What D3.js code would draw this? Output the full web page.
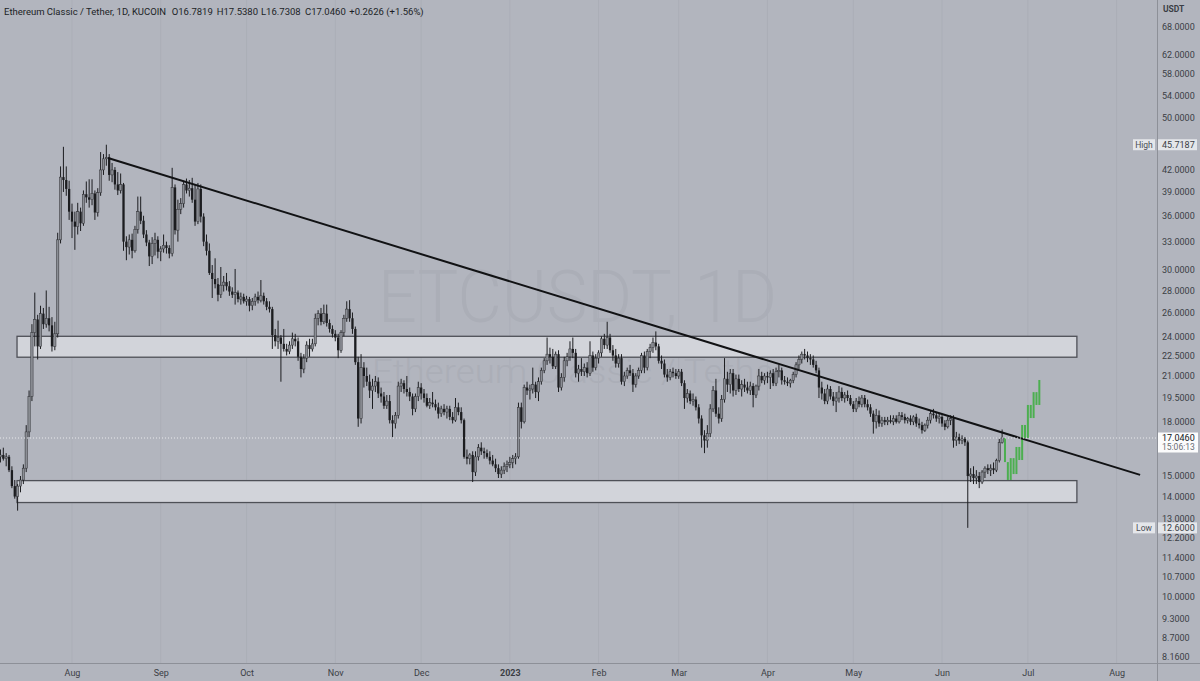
<!DOCTYPE html>
<html><head><meta charset="utf-8">
<script src="https://cdnjs.cloudflare.com/ajax/libs/d3/7.8.5/d3.min.js"></script>
<style>html,body{margin:0;padding:0;background:#b2b5be;overflow:hidden}svg{display:block}</style>
</head><body>
<svg id="chart" width="1200" height="681"></svg>
<script>
// ---------- DATA ----------
const firstDay = "2022-07-07"; // one candle per day from this date
const opens = [
16.0,16.1,15.9,16.0,15.3,14.5,14.0,14.5,14.8,15.4,
17.4,19.6,24.3,25.4,23.2,25.9,25.0,25.5,24.9,23.2,
24.2,33.2,41.0,40.6,39.4,36.5,35.3,34.7,36.5,35.1,
38.7,38.3,38.0,38.8,36.4,38.9,42.0,43.6,43.8,41.3,
42.0,40.0,39.2,40.0,33.0,32.4,33.2,32.0,34.4,36.5,
35.4,33.8,32.9,31.4,32.8,33.2,31.9,32.2,32.6,32.3,
31.7,39.6,34.3,36.8,37.5,40.0,39.2,39.5,38.0,35.3,
39.4,35.9,33.0,32.0,29.7,29.1,28.6,27.6,28.5,28.8,
28.4,27.9,27.6,27.8,27.2,27.4,27.0,27.2,26.6,27.0,
27.4,27.1,27.5,27.0,26.5,26.3,24.1,23.6,23.9,23.4,
23.0,22.8,23.3,23.8,23.6,22.4,21.5,22.3,23.3,23.0,
23.4,25.5,25.9,25.2,25.9,25.1,24.6,24.2,23.9,22.9,
24.3,25.5,26.3,25.5,24.6,22.0,18.2,21.6,21.0,20.6,
20.0,20.3,20.6,19.8,19.6,19.0,19.3,18.1,17.9,18.4,
20.3,20.5,20.1,19.9,19.6,18.8,19.6,20.2,19.8,19.5,
19.0,19.2,19.1,18.9,18.5,18.8,18.6,18.8,18.3,18.1,
18.9,18.6,18.1,16.0,15.9,16.1,15.2,16.0,16.5,16.3,
16.2,16.0,15.8,15.6,15.4,15.1,15.3,15.5,15.6,15.7,
15.9,16.0,18.9,18.0,20.2,20.0,20.1,20.4,19.9,20.6,
21.4,22.1,22.6,22.4,21.7,22.6,20.2,20.9,22.1,22.4,
23.0,22.7,21.2,21.5,21.3,21.6,21.2,22.5,21.6,22.3,
22.7,23.8,23.3,23.9,22.9,22.5,21.9,22.3,20.6,21.0,
21.4,21.2,20.4,21.0,21.4,22.5,21.6,22.8,23.1,23.5,
23.2,22.1,21.9,21.1,20.9,21.3,21.2,21.0,21.3,20.5,
19.5,19.8,19.3,19.4,18.9,18.2,17.2,16.9,17.3,18.8,
20.0,18.5,18.2,19.4,20.8,20.4,21.2,20.0,20.8,20.1,
20.4,20.2,20.0,20.3,19.7,20.3,21.0,20.7,21.0,20.9,
21.2,20.5,21.3,21.4,20.7,20.6,20.5,20.7,21.1,21.8,
22.2,22.6,22.5,22.3,22.2,21.8,21.4,20.2,19.8,19.3,
20.1,19.6,19.3,19.5,19.9,19.5,19.7,19.5,19.1,18.8,
19.3,19.1,19.5,19.1,18.9,18.5,18.0,18.4,17.9,18.1,
18.0,18.1,18.0,18.2,18.0,18.4,18.3,18.1,18.2,18.0,
18.3,17.9,17.8,17.5,17.8,18.1,18.5,18.4,18.2,18.3,
17.9,17.7,18.1,18.2,16.9,17.1,16.9,17.0,16.8,15.0,
15.1,14.9,15.0,14.7,15.2,15.4,15.3,15.4,15.3,15.8,
16.7819];
const highs = [
16.4,16.5,16.2,16.1,15.5,14.8,14.6,15.0,15.6,17.8,
20.0,25.0,27.8,25.8,26.6,26.4,28.0,26.5,25.6,25.2,
34.0,42.5,45.4,42.5,40.5,37.5,36.5,37.6,37.0,39.2,
40.4,40.7,40.7,39.2,39.5,44.6,44.3,45.7187,44.3,43.0,
42.4,41.7,41.5,40.2,33.6,33.8,33.9,34.8,38.4,38.4,
36.0,34.3,33.2,33.5,34.0,33.6,32.5,33.8,33.0,32.6,
42.3,40.0,38.0,38.2,40.5,40.8,40.6,40.9,40.0,40.2,
40.0,36.3,33.8,32.8,30.5,31.2,29.2,30.3,29.4,29.7,
28.9,28.3,30.1,28.0,27.8,27.7,27.5,27.4,27.3,27.7,
27.9,29.0,27.8,27.3,27.0,26.5,24.6,25.3,24.1,24.6,
23.4,23.6,24.3,24.2,23.9,22.7,22.6,23.6,23.8,23.8,
25.9,26.2,26.4,26.7,26.7,25.4,24.9,24.5,24.2,24.5,
25.8,27.0,27.1,26.0,24.8,22.4,22.6,22.0,21.6,21.1,
20.8,21.0,20.9,20.2,19.9,19.7,19.7,18.4,18.6,20.6,
20.8,20.7,21.0,20.2,19.8,19.8,20.6,20.5,20.1,19.8,
19.5,19.9,19.4,19.2,19.0,19.1,19.0,19.0,18.6,19.5,
19.2,18.9,18.2,16.4,16.2,16.3,16.3,16.7,16.8,16.5,
16.4,16.3,16.1,15.9,15.6,15.5,15.7,15.8,16.0,16.1,
16.2,19.2,19.2,20.4,20.6,20.4,21.6,20.6,20.9,21.6,
22.3,23.9,23.1,23.0,22.8,22.9,21.2,22.4,22.7,23.6,
23.9,23.0,21.8,22.3,21.9,22.0,23.6,22.8,22.6,22.9,
24.0,24.2,25.2,24.2,23.3,23.0,22.6,22.6,21.3,21.6,
21.8,21.5,21.2,21.6,22.7,22.8,23.0,23.4,23.9,24.4,
23.4,22.5,22.2,21.5,21.5,21.6,21.5,21.5,21.5,20.7,
20.1,20.0,19.8,19.6,19.1,18.4,17.5,17.8,19.1,20.3,
20.8,18.9,19.7,22.3,21.3,21.5,21.5,21.1,21.1,20.7,
20.8,20.6,20.6,20.5,20.4,21.5,21.3,21.2,21.3,21.4,
21.5,21.6,21.8,21.6,21.0,20.9,20.8,21.3,22.0,22.5,
22.8,23.0,22.8,22.6,22.5,22.1,21.6,20.6,20.1,20.4,
20.3,19.9,19.9,20.3,20.2,19.9,20.0,19.7,19.3,19.5,
19.6,19.7,19.7,19.4,19.1,18.7,18.8,18.7,18.3,18.3,
18.3,18.4,18.4,18.4,18.6,18.6,18.5,18.3,18.4,18.4,
18.5,18.2,18.0,17.9,18.3,18.7,18.8,18.6,18.5,18.4,
18.1,18.3,18.4,18.4,17.4,17.3,17.2,17.1,16.9,15.4,
15.5,15.3,15.2,15.3,15.5,15.6,15.6,15.7,15.9,17.0,
17.538];
const lows = [
15.7,15.8,15.5,15.2,14.4,13.9,13.35,14.2,14.6,15.2,
17.1,19.3,23.2,22.2,23.0,24.6,24.7,24.4,22.8,22.9,
23.9,32.8,39.0,38.5,35.5,33.4,32.1,33.8,34.2,34.8,
37.6,37.0,37.3,35.5,35.9,38.5,41.3,42.6,40.5,40.3,
39.3,38.6,38.8,32.0,31.0,31.6,31.2,31.8,33.9,35.0,
33.4,32.5,30.4,30.6,31.5,31.2,30.9,31.8,31.7,31.2,
31.4,33.8,33.0,36.2,37.0,38.8,38.4,37.6,34.8,35.0,
35.2,32.5,31.5,29.5,27.3,28.2,27.0,27.3,27.9,28.0,
27.5,27.3,26.7,26.9,26.7,26.8,26.6,26.1,26.2,26.6,
26.8,26.9,26.7,26.2,26.0,23.0,23.2,23.0,20.6,22.8,
22.5,22.6,23.0,23.2,22.1,20.9,21.2,22.0,22.4,22.8,
23.2,24.9,24.9,25.0,24.8,24.3,23.9,23.6,22.3,22.7,
24.0,25.2,25.2,24.2,21.8,17.7,17.9,20.2,20.3,19.5,
18.8,19.9,19.5,19.2,18.8,18.8,17.9,17.1,17.6,18.2,
19.9,19.8,19.6,19.3,18.4,18.6,19.3,19.4,19.2,18.9,
18.8,18.9,18.7,18.2,18.3,18.4,18.2,18.1,17.9,18.0,
18.4,17.9,15.9,15.6,15.6,14.7,15.0,15.8,16.1,15.9,
15.9,15.6,15.5,15.2,14.9,14.9,15.1,15.2,15.4,15.4,
15.6,15.9,17.6,17.9,19.7,19.4,19.8,19.5,19.3,20.4,
21.2,21.8,21.9,21.5,21.5,19.9,20.0,20.6,21.7,22.1,
22.3,20.9,20.6,21.0,21.0,20.9,21.0,21.3,21.4,21.9,
22.4,23.0,23.0,22.7,22.1,21.6,21.6,20.4,20.3,20.8,
21.0,19.9,20.2,20.8,21.2,21.2,21.4,22.3,22.7,22.9,
21.9,21.5,20.9,20.6,20.7,20.9,20.8,20.8,20.3,18.8,
19.2,19.1,19.0,18.7,17.9,16.5,16.2,16.5,17.1,18.6,
18.3,17.9,18.0,19.2,19.9,19.8,19.6,19.7,19.9,19.6,
19.9,19.8,19.7,18.9,19.5,20.0,20.5,20.4,20.5,20.1,
20.3,20.3,20.9,20.4,20.4,20.3,20.2,20.5,20.9,21.5,
21.9,22.2,22.0,21.8,21.6,21.2,19.5,19.4,19.1,19.1,
19.4,19.0,18.6,19.2,19.3,19.2,19.3,19.0,18.6,18.6,
18.9,18.9,18.9,18.7,18.3,17.3,17.6,17.7,17.7,17.8,
17.8,17.9,17.8,17.9,17.9,18.1,17.9,17.9,17.8,17.8,
17.7,17.6,17.3,17.4,17.6,17.9,18.2,18.0,17.9,17.7,
17.5,17.6,17.8,16.5,16.6,16.7,16.7,16.6,12.6,14.7,
14.6,14.6,14.4,14.6,14.9,15.1,15.0,15.1,15.2,15.7,
16.7308];
const closes = [
16.1,15.9,16.0,15.3,14.5,14.0,14.5,14.8,15.4,17.4,
19.6,24.3,25.4,23.2,25.9,25.0,25.5,24.9,23.2,24.2,
33.2,41.0,40.6,39.4,36.5,35.3,34.7,36.5,35.1,38.7,
38.3,38.0,38.8,36.4,38.9,42.0,43.6,43.8,41.3,42.0,
40.0,39.2,40.0,33.0,32.4,33.2,32.0,34.4,36.5,35.4,
33.8,32.9,31.4,32.8,33.2,31.9,32.2,32.6,32.3,31.7,
39.6,34.3,36.8,37.5,40.0,39.2,39.5,38.0,35.3,39.4,
35.9,33.0,32.0,29.7,29.1,28.6,27.6,28.5,28.8,28.4,
27.9,27.6,27.8,27.2,27.4,27.0,27.2,26.6,27.0,27.4,
27.1,27.5,27.0,26.5,26.3,24.1,23.6,23.9,23.4,23.0,
22.8,23.3,23.8,23.6,22.4,21.5,22.3,23.3,23.0,23.4,
25.5,25.9,25.2,25.9,25.1,24.6,24.2,23.9,22.9,24.3,
25.5,26.3,25.5,24.6,22.0,18.2,21.6,21.0,20.6,20.0,
20.3,20.6,19.8,19.6,19.0,19.3,18.1,17.9,18.4,20.3,
20.5,20.1,19.9,19.6,18.8,19.6,20.2,19.8,19.5,19.0,
19.2,19.1,18.9,18.5,18.8,18.6,18.8,18.3,18.1,18.9,
18.6,18.1,16.0,15.9,16.1,15.2,16.0,16.5,16.3,16.2,
16.0,15.8,15.6,15.4,15.1,15.3,15.5,15.6,15.7,15.9,
16.0,18.9,18.0,20.2,20.0,20.1,20.4,19.9,20.6,21.4,
22.1,22.6,22.4,21.7,22.6,20.2,20.9,22.1,22.4,23.0,
22.7,21.2,21.5,21.3,21.6,21.2,22.5,21.6,22.3,22.7,
23.8,23.3,23.9,22.9,22.5,21.9,22.3,20.6,21.0,21.4,
21.2,20.4,21.0,21.4,22.5,21.6,22.8,23.1,23.5,23.2,
22.1,21.9,21.1,20.9,21.3,21.2,21.0,21.3,20.5,19.5,
19.8,19.3,19.4,18.9,18.2,17.2,16.9,17.3,18.8,20.0,
18.5,18.2,19.4,20.8,20.4,21.2,20.0,20.8,20.1,20.4,
20.2,20.0,20.3,19.7,20.3,21.0,20.7,21.0,20.9,21.2,
20.5,21.3,21.4,20.7,20.6,20.5,20.7,21.1,21.8,22.2,
22.6,22.5,22.3,22.2,21.8,21.4,20.2,19.8,19.3,20.1,
19.6,19.3,19.5,19.9,19.5,19.7,19.5,19.1,18.8,19.3,
19.1,19.5,19.1,18.9,18.5,18.0,18.4,17.9,18.1,18.0,
18.1,18.0,18.2,18.0,18.4,18.3,18.1,18.2,18.0,18.3,
17.9,17.8,17.5,17.8,18.1,18.5,18.4,18.2,18.3,17.9,
17.7,18.1,18.2,16.9,17.1,16.9,17.0,16.8,15.0,15.1,
14.9,15.0,14.7,15.2,15.4,15.3,15.4,15.3,15.8,16.78,
17.046];

// projected (ghost) bars, one per day
const projFirstDay = "2023-06-23";
const projOpens  = [17.05,15.72,14.80,15.93,15.10,16.54,15.83,17.81,17.05,19.05,18.23,19.89,19.05];
const projCloses = [15.72,14.80,15.93,15.10,16.54,15.83,17.81,17.05,19.05,18.23,19.89,19.05,20.72];

// drawings
const zoneStart = "2022-07-12T19:00:00Z";
const zoneEnd   = "2023-07-18T03:00:00Z";
const zoneTops    = [24.0, 14.77];
const zoneBottoms = [22.37, 13.72];
const trendDates  = ["2022-08-13T14:00:00Z", "2023-08-09T05:00:00Z"];
const trendPrices = [43.72, 15.06];

// axes
const priceTicks = [68,62,58,54,50,42,39,36,33,30,28,26,24,22.5,21,19.5,18,15,14,13,12.2,11.4,10.7,10,9.3,8.7,8.16];
const monthDates  = ["2022-08-01","2022-09-01","2022-10-01","2022-11-01","2022-12-01","2023-01-01","2023-02-01","2023-03-01","2023-04-01","2023-05-01","2023-06-01","2023-07-01","2023-08-01"];
const monthLabels = ["Aug","Sep","Oct","Nov","Dec","2023","Feb","Mar","Apr","May","Jun","Jul","Aug"];
const highValue = 45.7187, lowValue = 12.6, lastValue = 17.046, countdown = "15:06:13";
const symbolName = "Ethereum Classic / Tether, 1D, KUCOIN";
const ohlcParts = ["O16.7819","H17.5380","L16.7308","C17.0460","+0.2626 (+1.56%)"];

// ---------- DRAW ----------
const W = 1200, H = 681, plotR = 1157, plotB = 663;
const FONT = "Roboto, 'Noto Sans', sans-serif";
const svg = d3.select("#chart");
svg.append("rect").attr("width", W).attr("height", H).attr("fill", "#b2b5be");
svg.append("defs").append("clipPath").attr("id", "plotclip")
  .append("rect").attr("x", 0).attr("y", 0).attr("width", plotR).attr("height", plotB);

const parseDay = d3.utcParse("%Y-%m-%d");
const x = d3.scaleUtc().domain([parseDay("2022-08-01"), parseDay("2023-08-01")]).range([72, 1116.6]);
const y = d3.scaleLog().domain([8.16, 68]).range([657, 26.7]);

const plot = svg.append("g").attr("clip-path", "url(#plotclip)");

// watermark
plot.append("text").attr("x", 378).attr("y", 321.7).attr("textLength", 399).attr("lengthAdjust", "spacingAndGlyphs")
  .attr("font-family", FONT).attr("font-weight", 300).attr("font-size", 73).attr("fill", "#abaeb7").text("ETCUSDT, 1D");
plot.append("text").attr("x", 372).attr("y", 383.3).attr("textLength", 414).attr("lengthAdjust", "spacingAndGlyphs")
  .attr("font-family", FONT).attr("font-weight", 300).attr("font-size", 33).attr("fill", "#abaeb7").text("Ethereum Classic / Tether");

// vertical grid
const mDates = monthDates.map(parseDay);
plot.selectAll("line.grid").data(mDates).join("line").attr("class", "grid")
  .attr("x1", d => x(d)).attr("x2", d => x(d)).attr("y1", 0).attr("y2", plotB)
  .attr("stroke", "#abaeb7").attr("stroke-width", 1);

// zones
const zStart = new Date(zoneStart), zEnd = new Date(zoneEnd);
plot.selectAll("rect.zone").data(zoneTops.map((t, i) => ({t, b: zoneBottoms[i]}))).join("rect").attr("class", "zone")
  .attr("x", x(zStart)).attr("width", x(zEnd) - x(zStart))
  .attr("y", d => y(d.t)).attr("height", d => y(d.b) - y(d.t))
  .attr("fill", "#d2d4da").attr("stroke", "#4e5057").attr("stroke-width", 1.3);

// candles
const day0 = parseDay(firstDay);
const candles = closes.map((c, i) => ({date: d3.utcDay.offset(day0, i), o: opens[i], h: highs[i], l: lows[i], c}));
const bw = 2.3;
const cg = plot.append("g");
cg.selectAll("line.wick").data(candles).join("line").attr("class", "wick")
  .attr("x1", d => x(d.date)).attr("x2", d => x(d.date))
  .attr("y1", d => y(d.h)).attr("y2", d => y(d.l))
  .attr("stroke", "#1c1d20").attr("stroke-width", 1);
cg.selectAll("rect.body").data(candles).join("rect").attr("class", "body")
  .attr("x", d => x(d.date) - bw / 2).attr("width", bw)
  .attr("y", d => y(Math.max(d.o, d.c)))
  .attr("height", d => Math.max(0.9, Math.abs(y(d.o) - y(d.c))))
  .attr("fill", d => d.c >= d.o ? "#8b8e95" : "#1c1d20")
  .attr("stroke", d => d.c >= d.o ? "#2e2f33" : "none").attr("stroke-width", 0.5);

// projection
const pday0 = parseDay(projFirstDay);
const proj = projCloses.map((c, i) => ({date: d3.utcDay.offset(pday0, i), o: projOpens[i], c}));
plot.selectAll("rect.proj").data(proj).join("rect").attr("class", "proj")
  .attr("x", d => x(d.date) - 1).attr("width", 2)
  .attr("y", d => y(Math.max(d.o, d.c))).attr("height", d => Math.abs(y(d.o) - y(d.c)))
  .attr("fill", "#4caf50");

// trendline
const tl = trendDates.map((d, i) => [x(new Date(d)), y(trendPrices[i])]);
plot.append("path").attr("d", d3.line()(tl)).attr("stroke", "#111214").attr("stroke-width", 2).attr("fill", "none");

// last price dotted line
plot.append("line").attr("x1", 0).attr("x2", plotR).attr("y1", y(lastValue)).attr("y2", y(lastValue))
  .attr("stroke", "#e8e9ec").attr("stroke-width", 1).attr("stroke-dasharray", "1,2");

// separators
svg.append("line").attr("x1", plotR + 0.5).attr("x2", plotR + 0.5).attr("y1", 0).attr("y2", H).attr("stroke", "#8d9098");
svg.append("line").attr("x1", 0).attr("x2", W).attr("y1", plotB + 0.5).attr("y2", plotB + 0.5).attr("stroke", "#8d9098");

// price axis
const yAxis = svg.append("g").attr("transform", `translate(${plotR},0)`)
  .call(d3.axisRight(y).tickValues(priceTicks).tickFormat(d3.format(".4f")).tickSize(0).tickPadding(5));
yAxis.select(".domain").remove();
yAxis.selectAll("text").attr("font-family", FONT).attr("font-size", 9).attr("fill", "#3b3e45");
svg.append("text").attr("x", 1163).attr("y", 12).attr("font-family", FONT).attr("font-size", 8.5)
  .attr("font-weight", 700).attr("fill", "#3b3e45").text("USDT");

// time axis
const xAxis = svg.append("g").attr("transform", `translate(0,${plotB})`)
  .call(d3.axisBottom(x).tickValues(mDates).tickFormat((d, i) => monthLabels[i]).tickSize(0).tickPadding(7));
xAxis.select(".domain").remove();
xAxis.selectAll("text").attr("font-family", FONT).attr("font-size", 9).attr("fill", "#3b3e45")
  .attr("font-weight", (d, i) => monthLabels[i] === "2023" ? 700 : 400);

// High / Low labels
function extremeLabel(name, val) {
  const yy = y(val);
  svg.append("rect").attr("x", 1133).attr("y", yy - 5.5).attr("width", 22).attr("height", 11).attr("fill", "#e4e6ea");
  svg.append("text").attr("x", 1144).attr("y", yy).attr("dy", "0.35em").attr("text-anchor", "middle")
    .attr("font-family", FONT).attr("font-size", 8.5).attr("fill", "#4a4d55").text(name);
  svg.append("rect").attr("x", 1158).attr("y", yy - 5.5).attr("width", 39).attr("height", 11).attr("fill", "#e4e6ea");
  svg.append("text").attr("x", 1162).attr("y", yy).attr("dy", "0.35em")
    .attr("font-family", FONT).attr("font-size", 9).attr("fill", "#3b3e45").text(d3.format(".4f")(val));
}
extremeLabel("High", highValue);
extremeLabel("Low", lowValue);

// last price label
const ly = y(lastValue);
svg.append("rect").attr("x", 1158).attr("y", ly - 5.5).attr("width", 40).attr("height", 20).attr("fill", "#fbfbfc");
svg.append("text").attr("x", 1162).attr("y", ly).attr("dy", "0.35em").attr("font-family", FONT).attr("font-size", 9)
  .attr("fill", "#131722").text(d3.format(".4f")(lastValue));
svg.append("text").attr("x", 1162).attr("y", ly + 9.5).attr("dy", "0.35em").attr("font-family", FONT).attr("font-size", 8.5)
  .attr("fill", "#6a6d75").text(countdown);

// title
const tg = svg.append("g").attr("font-family", FONT).attr("font-size", 9.5).attr("fill", "#1c1f26");
tg.append("text").attr("x", 4).attr("y", 14.5).text(symbolName);
const partX = [171.7, 216.7, 261, 305, 349.3];
ohlcParts.forEach((p, i) => tg.append("text").attr("x", partX[i]).attr("y", 14.5).text(p));
</script>
</body></html>
